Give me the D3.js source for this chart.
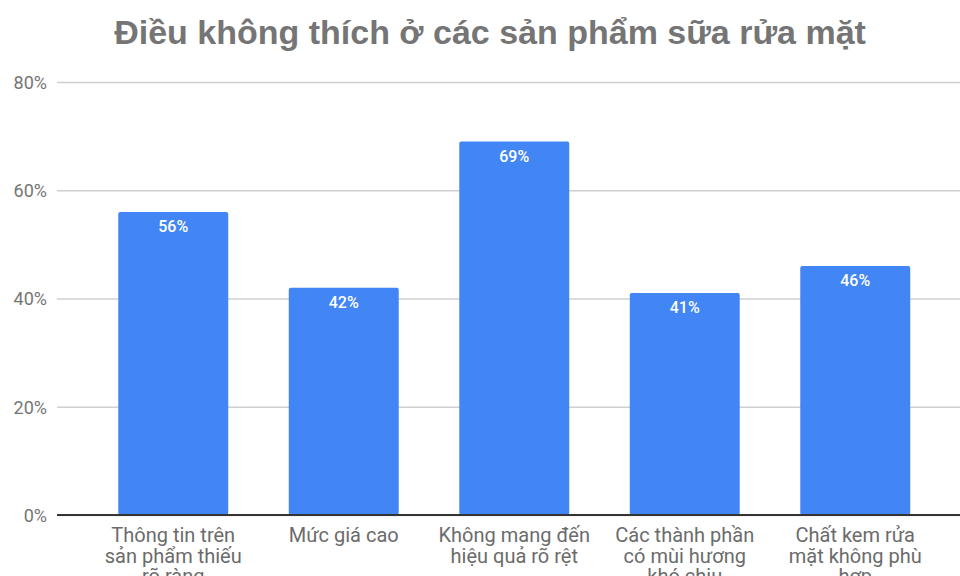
<!DOCTYPE html>
<html>
<head>
<meta charset="utf-8">
<script src="https://cdn.jsdelivr.net/npm/d3@7"></script>
<style>
  html, body { margin: 0; padding: 0; background: #fff; }
  svg { display: block; }
</style>
</head>
<body>
<svg id="chart" width="960" height="576"></svg>
<script>
// Survey results: what respondents dislike about facial cleansers
const categories = [
  ["Thông tin trên", "sản phẩm thiếu", "rõ ràng"],
  ["Mức giá cao"],
  ["Không mang đến", "hiệu quả rõ rệt"],
  ["Các thành phần", "có mùi hương", "khó chịu"],
  ["Chất kem rửa", "mặt không phù", "hợp"]
];
const values = [56, 42, 69, 41, 46];
const yTicks = [0, 20, 40, 60, 80];
const title = "Điều không thích ở các sản phẩm sữa rửa mặt";

const svg = d3.select("#chart");
const W = 960, H = 576;

const x = d3.scaleBand()
  .domain(d3.range(values.length))
  .range([88, 940.5])
  .paddingInner(0.355)
  .paddingOuter(0.1775);

const y = d3.scaleLinear().domain([0, 80]).range([515, 82]);

// Title
svg.append("text")
  .attr("x", 490)
  .attr("y", 44)
  .attr("text-anchor", "middle")
  .attr("font-family", "'Liberation Sans', Arial, sans-serif")
  .attr("font-weight", "bold")
  .attr("font-size", 34)
  .attr("fill", "#757575")
  .text(title);

// Gridlines and y tick labels
const yAxis = d3.axisLeft(y)
  .tickValues(yTicks)
  .tickSize(-(W - 57))
  .tickFormat(d => d + "%");

const gy = svg.append("g")
  .attr("transform", "translate(57,0)")
  .call(yAxis);
gy.select(".domain").remove();
gy.selectAll(".tick line")
  .attr("stroke", "#d0d0d0")
  .attr("stroke-width", 1.5);
gy.selectAll(".tick text")
  .attr("x", -10)
  .attr("dy", "0.35em")
  .attr("font-family", "Roboto, sans-serif")
  .attr("font-size", 18)
  .attr("fill", "#757575");

// Bars
svg.append("g")
  .selectAll("rect")
  .data(values)
  .join("rect")
  .attr("x", (d, i) => x(i))
  .attr("y", d => y(d))
  .attr("width", x.bandwidth())
  .attr("height", d => y(0) - y(d))
  .attr("rx", 2)
  .attr("fill", "#4285F4");

// Value labels inside bars
svg.append("g")
  .selectAll("text")
  .data(values)
  .join("text")
  .attr("x", (d, i) => x(i) + x.bandwidth() / 2)
  .attr("y", d => y(d) + 20)
  .attr("text-anchor", "middle")
  .attr("font-family", "Roboto, sans-serif")
  .attr("font-weight", 500)
  .attr("font-size", 16)
  .attr("fill", "#ffffff")
  .text(d => d + "%");

// Baseline
svg.append("line")
  .attr("x1", 57)
  .attr("x2", W)
  .attr("y1", y(0))
  .attr("y2", y(0))
  .attr("stroke", "#333")
  .attr("stroke-width", 2);

// Category labels (wrapped lines)
const xl = svg.append("g")
  .selectAll("text")
  .data(categories)
  .join("text")
  .attr("x", (d, i) => x(i) + x.bandwidth() / 2)
  .attr("y", 542)
  .attr("text-anchor", "middle")
  .attr("font-family", "Roboto, sans-serif")
  .attr("font-size", 20)
  .attr("fill", "#6b6b6b");
xl.each(function(lines) {
  const t = d3.select(this);
  const cx = t.attr("x");
  lines.forEach((line, k) => {
    t.append("tspan")
      .attr("x", cx)
      .attr("dy", k === 0 ? 0 : 20.5)
      .text(line);
  });
});
</script>
</body>
</html>
